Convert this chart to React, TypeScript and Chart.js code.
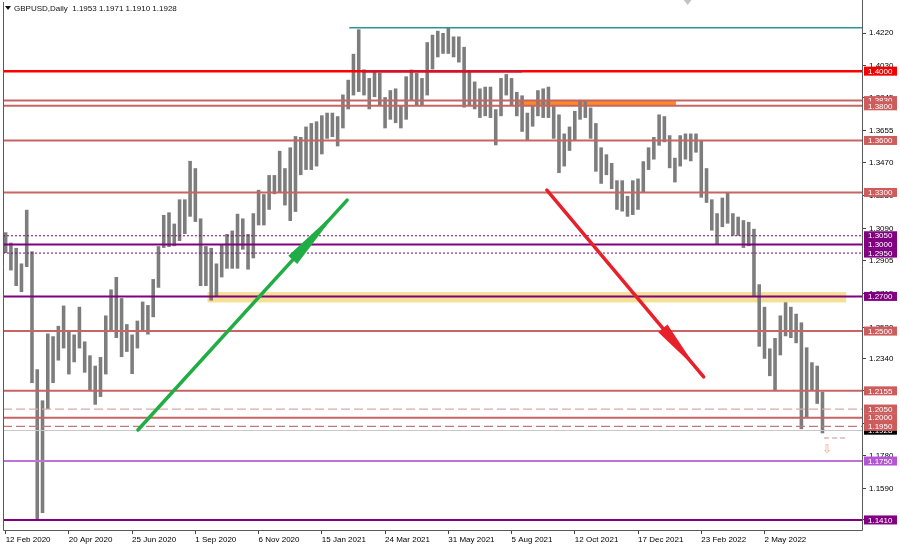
import React, { useEffect, useRef } from 'react';
import { Chart, registerables } from 'chart.js';
Chart.register(...registerables);

// ---------- data ----------
const barsPerLabel = 12; // one x label every 12 bars (each bar = 4 trading days)
const totalSlots = 163; // bar slots across the plot (incl. right shift)
const tickLabels = ['12 Feb 2020', '20 Apr 2020', '25 Jun 2020', '1 Sep 2020', '6 Nov 2020', '15 Jan 2021', '24 Mar 2021', '31 May 2021', '5 Aug 2021', '12 Oct 2021', '17 Dec 2021', '23 Feb 2022', '2 May 2022'];

const lows = [
  1.2950, 1.2850, 1.2760, 1.2725, 1.2870, 1.2200, 1.1410, 1.1450, 1.2050, 1.2200,
  1.2330, 1.2400, 1.2250, 1.2320, 1.2400, 1.2260, 1.2160, 1.2075, 1.2120, 1.2250,
  1.2500, 1.2460, 1.2350, 1.2380, 1.2252, 1.2400, 1.2500, 1.2480, 1.2580, 1.2750,
  1.2980, 1.2985, 1.2990, 1.3020, 1.3060, 1.3160, 1.3130, 1.2760, 1.2760, 1.2676,
  1.2700, 1.2810, 1.2860, 1.2860, 1.2860, 1.2970, 1.2855, 1.2920, 1.3110, 1.3110,
  1.3200, 1.3290, 1.3300, 1.3225, 1.3135, 1.3188, 1.3400, 1.3430, 1.3430, 1.3450,
  1.3520, 1.3610, 1.3620, 1.3566, 1.3670, 1.3780, 1.3860, 1.3880, 1.3860, 1.3780,
  1.3850, 1.3800, 1.3670, 1.3720, 1.3700, 1.3670, 1.3720, 1.3830, 1.3800, 1.3800,
  1.3860, 1.4010, 1.4080, 1.4100, 1.4100, 1.4080, 1.4050, 1.3790, 1.3800, 1.3780,
  1.3730, 1.3740, 1.3730, 1.3572, 1.3740, 1.3860, 1.3800, 1.3740, 1.3650, 1.3600,
  1.3680, 1.3740, 1.3730, 1.3730, 1.3610, 1.3412, 1.3450, 1.3540, 1.3600, 1.3720,
  1.3730, 1.3610, 1.3420, 1.3350, 1.3400, 1.3320, 1.3200, 1.3190, 1.3160, 1.3170,
  1.3200, 1.3300, 1.3430, 1.3490, 1.3570, 1.3590, 1.3440, 1.3358, 1.3450, 1.3490,
  1.3480, 1.3530, 1.3270, 1.3240, 1.3080, 1.3000, 1.3100, 1.3120, 1.3050, 1.3050,
  1.2980, 1.2990, 1.2700, 1.2410, 1.2340, 1.2240, 1.2155, 1.2360, 1.2470, 1.2460,
  1.2430, 1.1934, 1.2000, 1.2160, 1.2080, 1.1910,
];
const highs = [
  1.3070, 1.3010, 1.2980, 1.2890, 1.3200, 1.2960, 1.2280, 1.2100, 1.2486, 1.2470,
  1.2530, 1.2647, 1.2500, 1.2480, 1.2640, 1.2440, 1.2360, 1.2300, 1.2350, 1.2590,
  1.2740, 1.2812, 1.2690, 1.2540, 1.2480, 1.2560, 1.2670, 1.2650, 1.2800, 1.2990,
  1.3170, 1.3185, 1.3120, 1.3260, 1.3260, 1.3482, 1.3440, 1.3150, 1.2990, 1.2980,
  1.2890, 1.3000, 1.3060, 1.3080, 1.3177, 1.3150, 1.3060, 1.3180, 1.3315, 1.3290,
  1.3400, 1.3400, 1.3540, 1.3440, 1.3560, 1.3625, 1.3620, 1.3680, 1.3700, 1.3710,
  1.3745, 1.3760, 1.3760, 1.3740, 1.3865, 1.3950, 1.4100, 1.4241, 1.4010, 1.3960,
  1.4000, 1.3990, 1.3850, 1.3890, 1.3900, 1.3800, 1.3970, 1.4009, 1.3990, 1.3960,
  1.4167, 1.4210, 1.4233, 1.4220, 1.4250, 1.4200, 1.4200, 1.4140, 1.4000, 1.3940,
  1.3900, 1.3910, 1.3910, 1.3780, 1.3960, 1.3983, 1.3960, 1.3880, 1.3860, 1.3760,
  1.3800, 1.3890, 1.3900, 1.3910, 1.3800, 1.3750, 1.3640, 1.3680, 1.3770, 1.3834,
  1.3830, 1.3790, 1.3700, 1.3560, 1.3520, 1.3470, 1.3370, 1.3370, 1.3280, 1.3370,
  1.3380, 1.3480, 1.3560, 1.3620, 1.3750, 1.3740, 1.3630, 1.3500, 1.3630, 1.3640,
  1.3640, 1.3640, 1.3600, 1.3440, 1.3260, 1.3180, 1.3270, 1.3298, 1.3180, 1.3160,
  1.3140, 1.3130, 1.3090, 1.2770, 1.2640, 1.2400, 1.2460, 1.2590, 1.2666, 1.2640,
  1.2600, 1.2550, 1.2406, 1.2320, 1.2300, 1.2150,
];

const headerSymbol = 'GBPUSD,Daily';
const lastBarOHLC = [1.1953, 1.1971, 1.1910, 1.1928];

const yTicks = [1.4220, 1.4030, 1.3845, 1.3655, 1.3470, 1.3280, 1.3090, 1.2905, 1.2715, 1.2520, 1.2340, 1.2155, 1.1965, 1.1780, 1.1590, 1.1410];

// horizontal levels, grouped by style
const redLevels = [1.4000];
const indianRedLevels = [1.3830, 1.3800, 1.3600, 1.3300, 1.2500, 1.2155, 1.2000];
const purpleLevels = [1.3000, 1.2700, 1.1410];
const purpleDottedLevels = [1.3050, 1.2950];
const lightDashedLevels = [1.2050];
const darkDashedLevels = [1.1950];
const orchidLevels = [1.1750];

// trend segments / zones (bar index, price)
const cyanLinePrice = 1.4250;
const cyanLineBars = [65.2, 162.5];
const darkRedSegmentBars = [67.7, 98.0];
const orangeZoneBars = [96.9, 127.2];
const orangeZonePrices = [1.3830, 1.3800];
const yellowZoneBars = [38.3, 159.5];
const yellowZonePrices = [1.2725, 1.2665];
const greenArrowBars = [25.1, 64.8];
const greenArrowPrices = [1.1929, 1.3256];
const redArrowBars = [102.7, 132.45];
const redArrowPrices = [1.3314, 1.2235];
const alertLevelPrice = 1.1883;
const alertLevelBars = [155.3, 159.5];
const alertArrowBar = 155.9;
const alertArrowPrice = 1.1815;

// ---------- styles ----------
const FONT = 'Liberation Sans';
const STYLE: Record<string, { line: string; width: number; dash: number[]; box: string }> = {
  red: { line: '#ff0000', width: 2.5, dash: [], box: '#f20000' },
  indian: { line: '#c86464', width: 2, dash: [], box: '#cd5c5c' },
  purple: { line: '#800080', width: 2, dash: [], box: '#800080' },
  purpleDot: { line: '#800080', width: 1, dash: [2, 2], box: '#800080' },
  lightDash: { line: '#dcaaaa', width: 1.3, dash: [9, 4], box: '#cd5c5c' },
  darkDash: { line: '#c47878', width: 1.3, dash: [9, 4], box: '#cd5c5c' },
  orchid: { line: '#bd72d6', width: 2, dash: [], box: '#b456d4' },
};
const LEVEL_GROUPS: [number[], string][] = [
  [purpleDottedLevels, 'purpleDot'],
  [lightDashedLevels, 'lightDash'],
  [darkDashedLevels, 'darkDash'],
  [indianRedLevels, 'indian'],
  [purpleLevels, 'purple'],
  [orchidLevels, 'orchid'],
  [redLevels, 'red'],
];

function drawArrow(ctx: CanvasRenderingContext2D, x0: number, y0: number, x1: number, y1: number, color: string) {
  ctx.save();
  ctx.strokeStyle = color;
  ctx.fillStyle = color;
  ctx.lineWidth = 3.5;
  ctx.lineCap = 'round';
  ctx.beginPath();
  ctx.moveTo(x0, y0);
  ctx.lineTo(x1, y1);
  ctx.stroke();
  const dx = x1 - x0, dy = y1 - y0;
  const len = Math.hypot(dx, dy);
  const ux = dx / len, uy = dy / len;
  const bx = x0 + dx * 0.74, by = y0 + dy * 0.74;
  const tx = x0 + dx * 0.96, ty = y0 + dy * 0.96;
  const hw = 6;
  ctx.beginPath();
  ctx.moveTo(bx - uy * hw, by + ux * hw);
  ctx.lineTo(tx, ty);
  ctx.lineTo(bx + uy * hw, by - ux * hw);
  ctx.closePath();
  ctx.fill();
  ctx.restore();
}

const overlay = {
  id: 'mtOverlay',
  beforeDatasetsDraw(chart: any) {
    const { ctx, scales: { x, y } } = chart;
    ctx.save();
    const yx0 = x.getPixelForValue(yellowZoneBars[0]);
    const yx1 = x.getPixelForValue(yellowZoneBars[1]);
    const yy0 = y.getPixelForValue(yellowZonePrices[0]);
    const yy1 = y.getPixelForValue(yellowZonePrices[1]);
    ctx.fillStyle = '#f5e196';
    ctx.fillRect(yx0, yy0, yx1 - yx0, yy1 - yy0);
    const ox0 = x.getPixelForValue(orangeZoneBars[0]);
    const ox1 = x.getPixelForValue(orangeZoneBars[1]);
    const oy0 = y.getPixelForValue(orangeZonePrices[0]);
    const oy1 = y.getPixelForValue(orangeZonePrices[1]);
    ctx.fillStyle = '#ff8a24';
    ctx.fillRect(ox0, oy0, ox1 - ox0, oy1 - oy0);
    ctx.restore();
  },
  afterDatasetsDraw(chart: any) {
    const { ctx, chartArea: a, scales: { x, y } } = chart;
    ctx.save();
    ctx.beginPath();
    ctx.rect(a.left, a.top, a.right - a.left, a.bottom - a.top);
    ctx.clip();
    // last price line
    ctx.strokeStyle = '#c8c8c8';
    ctx.lineWidth = 1;
    ctx.setLineDash([]);
    const lp = Math.round(y.getPixelForValue(lastBarOHLC[3])) + 0.5;
    ctx.beginPath(); ctx.moveTo(a.left, lp); ctx.lineTo(a.right, lp); ctx.stroke();
    for (const [vals, key] of LEVEL_GROUPS) {
      const s = STYLE[key];
      ctx.strokeStyle = s.line;
      ctx.lineWidth = s.width;
      ctx.setLineDash(s.dash);
      for (const v of vals) {
        const py = y.getPixelForValue(v);
        ctx.beginPath(); ctx.moveTo(a.left, py); ctx.lineTo(a.right, py); ctx.stroke();
      }
    }
    ctx.setLineDash([]);
    // dark red overlay segment on 1.4000
    ctx.strokeStyle = '#d4122e';
    ctx.lineWidth = 2.5;
    const ry = y.getPixelForValue(redLevels[0]);
    ctx.beginPath();
    ctx.moveTo(x.getPixelForValue(darkRedSegmentBars[0]), ry);
    ctx.lineTo(x.getPixelForValue(darkRedSegmentBars[1]), ry);
    ctx.stroke();
    // cyan top line
    ctx.strokeStyle = '#2a9696';
    ctx.lineWidth = 1.6;
    const cy = y.getPixelForValue(cyanLinePrice);
    ctx.beginPath();
    ctx.moveTo(x.getPixelForValue(cyanLineBars[0]), cy);
    ctx.lineTo(x.getPixelForValue(cyanLineBars[1]), cy);
    ctx.stroke();
    // alert dashed segment
    ctx.strokeStyle = '#c89090';
    ctx.lineWidth = 1;
    ctx.setLineDash([5, 3]);
    const ay = y.getPixelForValue(alertLevelPrice);
    ctx.beginPath();
    ctx.moveTo(x.getPixelForValue(alertLevelBars[0]), ay);
    ctx.lineTo(x.getPixelForValue(alertLevelBars[1]), ay);
    ctx.stroke();
    ctx.setLineDash([]);
    ctx.fillStyle = '#f0a484';
    ctx.font = `12px "DejaVu Sans"`;
    ctx.textAlign = 'center';
    ctx.textBaseline = 'middle';
    ctx.fillText('\u21E9', x.getPixelForValue(alertArrowBar), y.getPixelForValue(alertArrowPrice));
    // arrows
    drawArrow(ctx, x.getPixelForValue(greenArrowBars[0]), y.getPixelForValue(greenArrowPrices[0]),
      x.getPixelForValue(greenArrowBars[1]), y.getPixelForValue(greenArrowPrices[1]), '#21ad45');
    drawArrow(ctx, x.getPixelForValue(redArrowBars[0]), y.getPixelForValue(redArrowPrices[0]),
      x.getPixelForValue(redArrowBars[1]), y.getPixelForValue(redArrowPrices[1]), '#e8202a');
    ctx.restore();
  },
  afterDraw(chart: any) {
    const { ctx, chartArea: a, scales: { y } } = chart;
    ctx.save();
    // frame
    ctx.strokeStyle = '#5a5a5a';
    ctx.lineWidth = 1;
    ctx.beginPath();
    ctx.moveTo(a.left + 0.5, a.top);
    ctx.lineTo(a.left + 0.5, a.bottom + 0.5);
    ctx.lineTo(a.right + 0.5, a.bottom + 0.5);
    ctx.lineTo(a.right + 0.5, 0);
    ctx.stroke();
    // chart shift marker
    const sx = a.left + (a.right - a.left) * 0.797;
    ctx.fillStyle = '#c4c4c4';
    ctx.beginPath();
    ctx.moveTo(sx - 4, 0); ctx.lineTo(sx + 4, 0); ctx.lineTo(sx, 5); ctx.closePath(); ctx.fill();
    // header
    ctx.fillStyle = '#111';
    ctx.beginPath();
    ctx.moveTo(a.left + 2, 6); ctx.lineTo(a.left + 8, 6); ctx.lineTo(a.left + 5, 10); ctx.closePath(); ctx.fill();
    ctx.font = `8px "${FONT}"`;
    ctx.textAlign = 'left';
    ctx.textBaseline = 'middle';
    ctx.fillText(headerSymbol + '  ' + lastBarOHLC.map(v => v.toFixed(4)).join(' '), a.left + 11, 8.5);
    // price labels on the axis
    const drawBox = (v: number, bg: string) => {
      const py = y.getPixelForValue(v);
      ctx.fillStyle = bg;
      ctx.fillRect(a.right + 2, py - 4.5, 33, 9);
      ctx.fillStyle = '#ffffff';
      ctx.fillText(v.toFixed(4), a.right + 6, py + 0.5);
    };
    drawBox(lastBarOHLC[3], '#000000');
    for (const [vals, key] of LEVEL_GROUPS) {
      for (const v of vals) drawBox(v, STYLE[key].box);
    }
    ctx.restore();
  },
};

export default function App() {
  const ref = useRef<HTMLCanvasElement>(null);
  useEffect(() => {
    document.body.style.margin = '0';
    const slots = Array.from({ length: totalSlots }, (_, i) => String(i));
    const ranges = lows.map((l, i) => [l, highs[i]]);
    const zeroPad = (s: any) => { s.paddingLeft = 0; s.paddingRight = 0; s.paddingTop = 0; s.paddingBottom = 0; };
    const chart = new Chart(ref.current as HTMLCanvasElement, {
      type: 'bar',
      data: {
        labels: slots,
        datasets: [{
          data: ranges as any,
          backgroundColor: '#7d7d7d',
          borderWidth: 0,
          barPercentage: 0.68,
          categoryPercentage: 1,
        }],
      },
      options: {
        responsive: false,
        animation: false,
        layout: { padding: { left: 3, top: 2, right: 0, bottom: 0 }, autoPadding: false },
        plugins: { legend: { display: false }, tooltip: { enabled: false } },
        scales: {
          x: {
            type: 'category',
            offset: true,
            border: { display: false },
            grid: { display: true, drawOnChartArea: false, drawTicks: true, tickLength: 4, tickColor: '#444', offset: false },
            ticks: {
              autoSkip: false, maxRotation: 0, minRotation: 0, align: 'start', padding: 1,
              color: '#000', font: { family: FONT, size: 8 },
              callback: (v: any) => tickLabels[Number(v) / barsPerLabel] ?? '',
            },
            afterBuildTicks: (s: any) => {
              s.ticks = s.ticks.filter((t: any) => t.value % barsPerLabel === 0 && t.value / barsPerLabel < tickLabels.length);
            },
            afterFit: (s: any) => { s.height = 19; zeroPad(s); },
          },
          y: {
            type: 'linear',
            position: 'right',
            min: 1.1352,
            max: 1.4399,
            border: { display: false },
            grid: { display: true, drawOnChartArea: false, drawTicks: true, tickLength: 4, tickColor: '#444' },
            ticks: {
              padding: 3, color: '#000', font: { family: FONT, size: 8 },
              callback: (v: any) => Number(v).toFixed(4),
            },
            afterBuildTicks: (s: any) => { s.ticks = yTicks.map(v => ({ value: v })); },
            afterFit: (s: any) => { s.width = 38; zeroPad(s); },
          },
        },
      },
      plugins: [overlay],
    });
    return () => chart.destroy();
  }, []);
  return (
    <div style={{ width: 900, height: 549 }}>
      <canvas ref={ref} width={900} height={549} style={{ display: 'block' }} />
    </div>
  );
}
